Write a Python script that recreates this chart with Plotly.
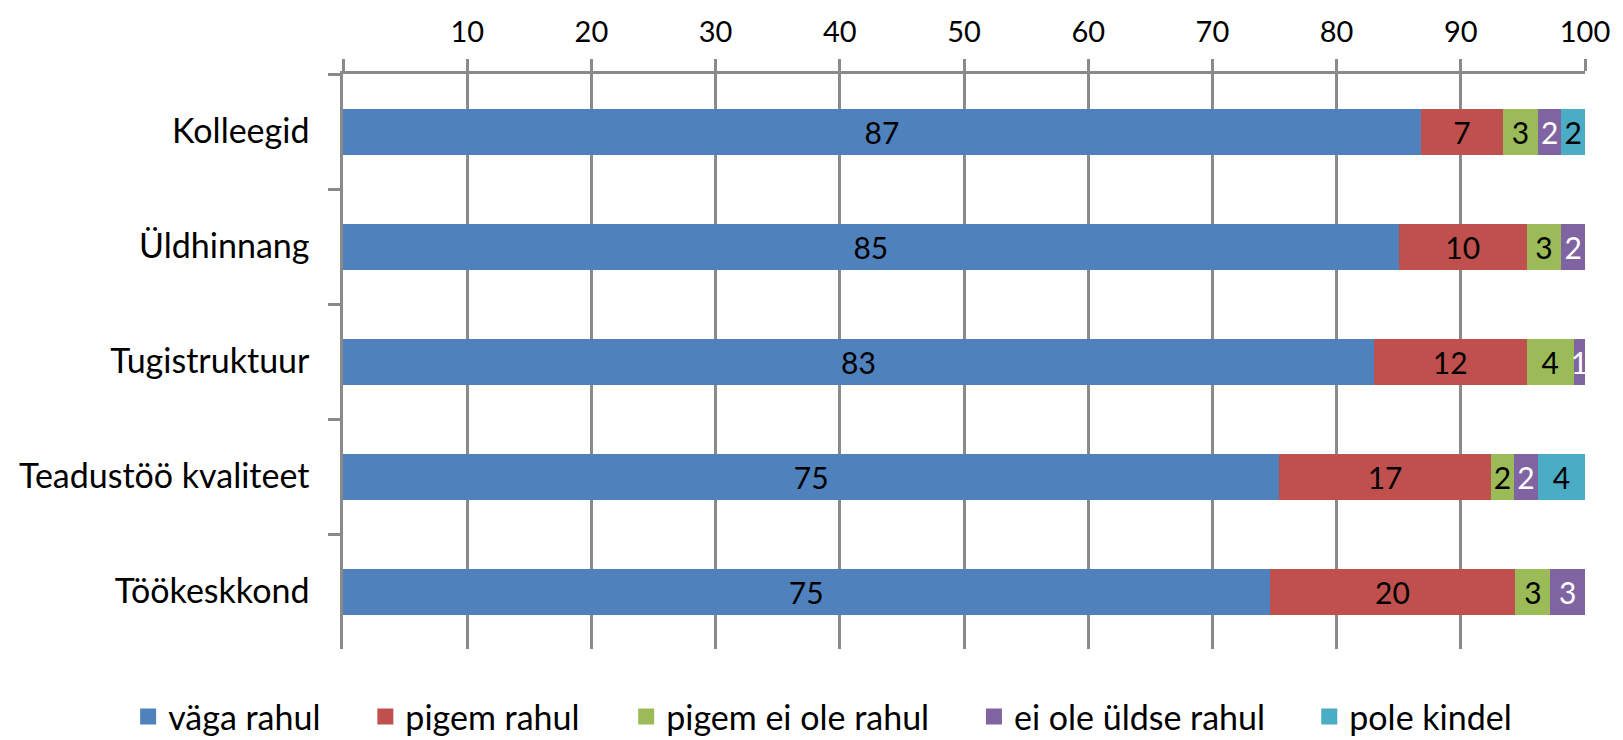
import plotly.graph_objects as go

categories = ["Kolleegid", "Üldhinnang", "Tugistruktuur", "Teadustöö kvaliteet", "Töökeskkond"]
series_names = ["väga rahul", "pigem rahul", "pigem ei ole rahul", "ei ole üldse rahul", "pole kindel"]
vaga_rahul = [86.8, 85.0, 83.0, 75.4, 74.6]
pigem_rahul = [6.6, 10.3, 12.3, 17.0, 19.8]
pigem_ei_ole_rahul = [2.8, 2.8, 3.8, 1.9, 2.8]
ei_ole_uldse_rahul = [1.9, 1.9, 0.9, 1.9, 2.8]
pole_kindel = [1.9, None, None, 3.8, None]
x_ticks = [0, 10, 20, 30, 40, 50, 60, 70, 80, 90, 100]
x_tick_labels = ["", "10", "20", "30", "40", "50", "60", "70", "80", "90", "100"]

series_values = [vaga_rahul, pigem_rahul, pigem_ei_ole_rahul, ei_ole_uldse_rahul, pole_kindel]
colors = ["#4F81BD", "#C0504D", "#9BBB59", "#8064A2", "#4BACC6"]
text_colors = ["#000000", "#000000", "#000000", "#FFFFFF", "#000000"]
legend_x = [-0.173, 0.018, 0.228, 0.508, 0.778]

FONT = "Lato"
GRID = "#8A8A8A"

fig = go.Figure()
for i, (name, vals) in enumerate(zip(series_names, series_values)):
    fig.add_trace(go.Bar(
        y=categories, x=vals, name=name, orientation="h",
        marker=dict(color=colors[i], line=dict(width=0)),
        texttemplate="%{x:.0f}", textposition="inside", insidetextanchor="middle",
        textfont=dict(family=FONT, size=30, color=text_colors[i]),
        showlegend=False,
        hoverinfo="skip",
    ))
    # legend entry with a larger square swatch
    fig.add_trace(go.Scatter(
        x=[None], y=[None], mode="markers", name=name,
        marker=dict(symbol="square", size=22, color=colors[i]),
        legend="legend" if i == 0 else f"legend{i+1}",
        showlegend=True, hoverinfo="skip",
    ))

fig.update_layout(
    barmode="stack", bargap=0.6,
    width=1623, height=740,
    margin=dict(l=343, r=38, t=74, b=91, autoexpand=False),
    paper_bgcolor="white", plot_bgcolor="white",
    showlegend=True,
    font=dict(family=FONT, size=30, color="#000000"),
    uniformtext=dict(minsize=30, mode="show"),
    xaxis=dict(
        range=[0, 100], side="top", tickvals=x_ticks, ticktext=x_tick_labels,
        showgrid=True, gridcolor=GRID, gridwidth=2.5,
        showline=True, linecolor=GRID, linewidth=2.5,
        ticks="outside", ticklen=12, tickwidth=2.5, tickcolor=GRID,
        tickfont=dict(family=FONT, size=29, color="#000000"),
        ticklabelposition="outside", ticklabelstandoff=6,
        zeroline=False, automargin=False,
    ),
    yaxis=dict(
        categoryorder="array", categoryarray=categories, autorange="reversed",
        showline=True, linecolor=GRID, linewidth=2.5,
        ticks="outside", ticklen=12, tickwidth=2.5, tickcolor=GRID, tickson="boundaries",
        tickfont=dict(family=FONT, size=34, color="#000000"),
        ticklabelstandoff=24, showgrid=False, zeroline=False, automargin=False,
    ),
)

for i in range(5):
    key = "legend" if i == 0 else f"legend{i+1}"
    fig.update_layout({key: dict(
        x=legend_x[i], y=-0.118, xanchor="left", yanchor="middle",
        orientation="h", bgcolor="rgba(0,0,0,0)", itemsizing="trace",
        font=dict(family=FONT, size=34, color="#000000"),
    )})

fig.write_html(
    "out.html",
    config={"displayModeBar": False},
    post_script="document.body.style.margin='0';document.body.style.overflow='hidden';",
)
